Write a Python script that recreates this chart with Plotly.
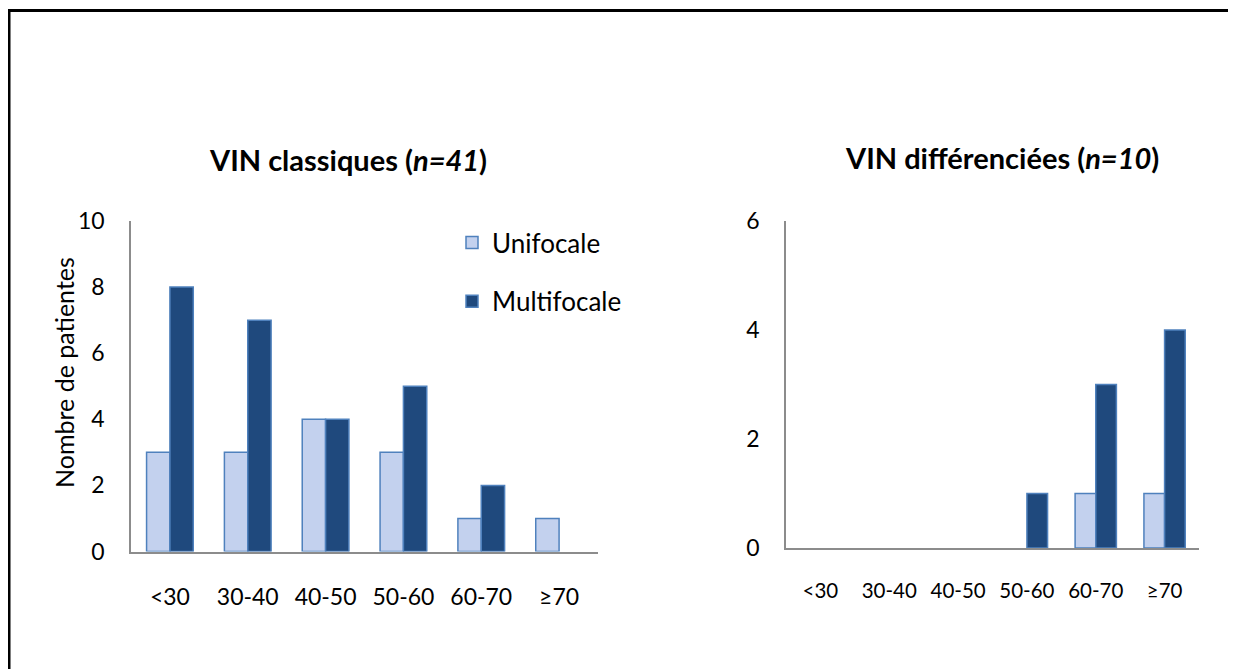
import plotly.graph_objects as go

W, H = 1236, 669
OFF = 8  # page offset of the figure inside the browser window

categories = ["<30", "30-40", "40-50", "50-60", "60-70", "≥70"]
classic_uni = [3, 3, 4, 3, 1, 1]
classic_multi = [8, 7, 4, 5, 2, 0]
diff_uni = [0, 0, 0, 0, 1, 1]
diff_multi = [0, 0, 0, 1, 3, 4]
series_names = ["Unifocale", "Multifocale"]
title_left = "<b>VIN classiques (<i>n=41</i>)</b>"
title_right = "<b>VIN différenciées (<i>n=10</i>)</b>"
y_title = "Nombre de patientes"
left_ticks = [0, 2, 4, 6, 8, 10]
right_ticks = [0, 2, 4, 6]

FONT = "Lato, Carlito, 'Liberation Sans', sans-serif"
UNI_COLOR = "#c3d1ee"
MULTI_COLOR = "#1f497d"
EDGE = "#4f81bd"
AXIS = "#8c8c8c"


def px_x(p):
    return (p - OFF) / W


def px_y(p):
    return 1 - (p - OFF) / H


def nz(vals):
    # zero counts draw no bar
    return [v if v != 0 else None for v in vals]


fig = go.Figure()
fig.add_trace(go.Bar(x=categories, y=nz(classic_uni), name=series_names[0],
                     marker=dict(color=UNI_COLOR, line=dict(color=EDGE, width=1.5)),
                     xaxis="x", yaxis="y", legendgroup="u"))
fig.add_trace(go.Bar(x=categories, y=nz(classic_multi), name=series_names[1],
                     marker=dict(color=MULTI_COLOR, line=dict(color=EDGE, width=1.5)),
                     xaxis="x", yaxis="y", legendgroup="m"))
fig.add_trace(go.Bar(x=categories, y=nz(diff_uni), name=series_names[0], showlegend=False,
                     marker=dict(color=UNI_COLOR, line=dict(color=EDGE, width=1.5)),
                     xaxis="x2", yaxis="y2"))
fig.add_trace(go.Bar(x=categories, y=nz(diff_multi), name=series_names[1], showlegend=False,
                     marker=dict(color=MULTI_COLOR, line=dict(color=EDGE, width=1.5)),
                     xaxis="x2", yaxis="y2"))

common_x = dict(showgrid=False, zeroline=False, showline=True, linecolor=AXIS, linewidth=1.5,
                ticks="", type="category", fixedrange=True, automargin=False)
common_y = dict(showgrid=False, zeroline=False, showline=True, linecolor=AXIS, linewidth=1.5,
                ticks="", fixedrange=True, automargin=False)

fig.update_layout(
    width=W, height=H,
    autosize=False,
    margin=dict(l=0, r=0, t=0, b=0, pad=0, autoexpand=False),
    paper_bgcolor="white", plot_bgcolor="white",
    font=dict(family=FONT, color="black", size=18),
    barmode="group", bargap=0.4, bargroupgap=0,
    xaxis=dict(common_x, domain=[px_x(131), px_x(598)], anchor="y",
               tickfont=dict(size=23), ticklabelstandoff=24),
    yaxis=dict(common_y, domain=[px_y(551.5), px_y(221)], anchor="x", range=[0, 10],
               tickvals=left_ticks, tickfont=dict(size=23), ticklabelstandoff=20),
    xaxis2=dict(common_x, domain=[px_x(786), px_x(1199)], anchor="y2",
                tickfont=dict(size=20.5), ticklabelstandoff=24),
    yaxis2=dict(common_y, domain=[px_y(548), px_y(221)], anchor="x2", range=[0, 6],
                tickvals=right_ticks, tickfont=dict(size=23), ticklabelstandoff=20),
    legend=dict(x=px_x(452), y=px_y(219), xanchor="left", yanchor="top",
                font=dict(size=26), tracegroupgap=22, bgcolor="rgba(0,0,0,0)",
                itemwidth=30),
    annotations=[
        dict(text=title_left, x=px_x(348), y=px_y(159), xref="paper", yref="paper",
             showarrow=False, font=dict(size=29), xanchor="center", yanchor="middle"),
        dict(text=title_right, x=px_x(1002), y=px_y(157), xref="paper", yref="paper",
             showarrow=False, font=dict(size=29), xanchor="center", yanchor="middle"),
        dict(text=y_title, x=px_x(64), y=px_y(373), xref="paper", yref="paper",
             showarrow=False, font=dict(size=25), textangle=-90,
             xanchor="center", yanchor="middle"),
    ],
    shapes=[
        dict(type="rect", xref="paper", yref="paper", x0=px_x(9), y0=-0.1, x1=1.1, y1=px_y(10.5),
             line=dict(color="black", width=3), layer="above"),
    ],
)

fig.write_html("out.html")
